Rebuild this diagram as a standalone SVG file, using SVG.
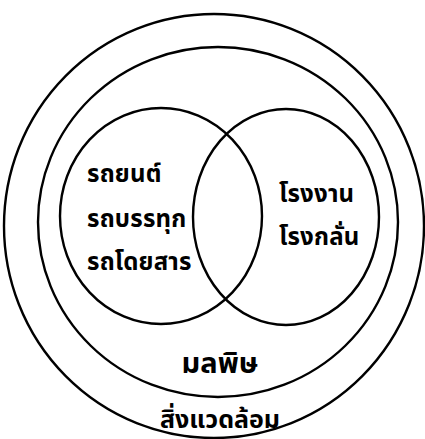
<svg xmlns="http://www.w3.org/2000/svg" width="425" height="439" viewBox="0 0 425 439">
<style>
.ring{fill:none;stroke:#000;stroke-width:2.4}
.t{font-family:"Noto Sans Thai","Noto Sans","DejaVu Sans",sans-serif;fill:#000;font-weight:bold}
.s{font-size:24px;letter-spacing:0.2px}
.m{font-size:29px;text-anchor:middle}
.e{font-size:25px;text-anchor:middle}
</style>
<rect width="425" height="439" fill="#fff"/>
<g id="environment">
<ellipse class="ring" cx="214" cy="226" rx="210" ry="212"/>
<text class="t e" x="220" y="428">สิ่งแวดล้อม</text>
</g>
<g id="pollution">
<ellipse class="ring" cx="218" cy="222" rx="180" ry="175"/>
<text class="t m" x="220" y="373">มลพิษ</text>
</g>
<g id="vehicles">
<ellipse class="ring" cx="161" cy="216" rx="101" ry="108"/>
<text class="t s" x="87" y="182">รถยนต์</text>
<text class="t s" x="87" y="227">รถบรรทุก</text>
<text class="t s" x="87" y="270">รถโดยสาร</text>
</g>
<g id="factories">
<ellipse class="ring" cx="286" cy="217" rx="93" ry="108"/>
<text class="t s" x="279" y="202">โรงงาน</text>
<text class="t s" x="279" y="245">โรงกลั่น</text>
</g>
<g id="connectors"></g>
</svg>
